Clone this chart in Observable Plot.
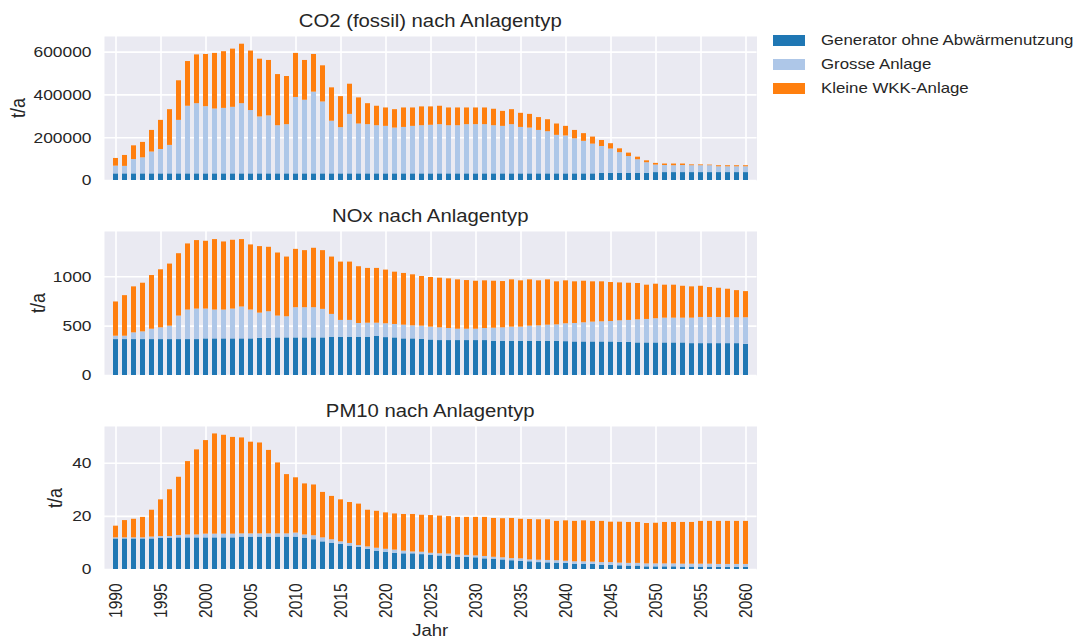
<!DOCTYPE html>
<html>
<head>
<meta charset="utf-8">
<script src="https://cdn.jsdelivr.net/npm/d3@7"></script>
<script src="https://cdn.jsdelivr.net/npm/@observablehq/plot@0.6"></script>
<style>
  body { margin: 0; background: #fff; }
  #root { position: relative; width: 1079px; height: 639px; overflow: hidden; font-family: 'Liberation Sans', Arial, sans-serif; color: #262626; }
  .abs { position: absolute; white-space: nowrap; }
  .title { left: 104px; width: 652.5px; text-align: center; font-size: 17.5px; line-height: 20px; transform: scaleX(1.16); }
  .ylab { font-size: 18px; line-height: 18px; transform: translate(-50%, -50%) scale(1.16, 1) rotate(-90deg); }
  .leg { left: 773px; height: 20px; display: flex; align-items: center; font-size: 14.5px; }
  .leg span { display: inline-block; transform: scaleX(1.16); transform-origin: left center; }
  .sw { width: 32px; height: 11px; margin-right: 16px; }
</style>
</head>
<body>
<div id="root"></div>
<script>
const years = [1990,1991,1992,1993,1994,1995,1996,1997,1998,1999,2000,2001,2002,2003,2004,2005,2006,2007,2008,2009,2010,2011,2012,2013,2014,2015,2016,2017,2018,2019,2020,2021,2022,2023,2024,2025,2026,2027,2028,2029,2030,2031,2032,2033,2034,2035,2036,2037,2038,2039,2040,2041,2042,2043,2044,2045,2046,2047,2048,2049,2050,2051,2052,2053,2054,2055,2056,2057,2058,2059,2060];
const xTicks = [1990,1995,2000,2005,2010,2015,2020,2025,2030,2035,2040,2045,2050,2055,2060];
const typeNames = ["Generator ohne Abwärmenutzung", "Grosse Anlage", "Kleine WKK-Anlage"];
const typeColors = ["#1f77b4", "#aec7e8", "#ff7f0e"];
const titles = ["CO2 (fossil) nach Anlagentyp", "NOx nach Anlagentyp", "PM10 nach Anlagentyp"];

// CO2 (fossil), t/a
const co2Generator = [
  31000,31000,31000,31000,31000,31000,31000,31000,31000,31000,
  31000,31000,31000,31000,31000,31000,31000,31000,31000,31000,
  31000,31000,31000,31000,31000,31000,31000,31000,31000,31000,
  31000,31000,31000,31000,31000,31000,31000,31000,31000,31000,
  31000,31000,31000,31000,31000,31000,31000,31000,31000,31000,
  31000,31000,31000,31000,34000,34000,34000,34000,34000,34000,
  37000,37000,37000,37000,37000,37000,37000,37000,37000,37000,
  37000];
const co2Grosse = [
  36000,35000,67000,75000,102000,114000,133000,250000,316000,328000,
  314000,303000,306000,311000,328000,296000,266000,271000,225000,230000,
  357000,344000,382000,336000,246000,216000,278000,233000,230000,225000,
  222000,214000,217000,222000,225000,227000,230000,225000,225000,230000,
  230000,230000,225000,222000,230000,217000,214000,203000,197000,180000,
  177000,164000,152000,139000,125000,113000,96000,78000,63000,49000,
  35000,33000,32000,33000,32000,32000,32000,27000,27000,27000,
  27000];
const co2Kleine = [
  36000,51000,64000,72000,101000,136000,167000,185000,209000,228000,
  244000,260000,265000,272000,278000,278000,270000,259000,239000,225000,
  206000,186000,176000,169000,156000,145000,141000,122000,98000,91000,
  86000,86000,91000,86000,88000,86000,86000,83000,83000,78000,
  78000,78000,77000,70000,70000,66000,64000,60000,56000,53000,
  45000,39000,36000,33000,28000,25000,18000,16000,12000,9000,
  8000,7000,8000,7000,4000,4000,3000,5000,5000,5000,
  5000];

// NOx, t/a
const noxGenerator = [364,364,364,364,364,364,364,364,364,364,371,371,371,371,371,371,377,377,381,381,381,381,381,381,388,388,388,388,388,398,384,381,371,371,367,360,354,354,354,354,354,354,347,347,347,347,347,347,347,347,343,340,340,340,340,340,337,337,330,330,330,330,330,330,323,323,323,323,323,323,316];
const noxGrosse = [34,34,68,78,105,119,136,238,299,309,302,292,292,302,323,292,255,269,221,214,306,306,306,289,231,170,170,139,142,132,140,136,139,132,133,130,129,122,115,115,115,122,132,136,143,143,153,156,163,166,181,187,194,201,204,207,217,221,234,238,245,251,251,251,258,265,265,265,262,262,269];
const noxKleine = [347,411,466,493,544,588,629,632,670,694,687,714,690,697,683,660,674,653,639,605,591,578,602,595,581,591,591,575,555,555,544,530,524,517,503,503,503,503,500,493,486,483,476,469,479,469,469,456,459,436,435,422,421,408,405,395,384,377,368,347,350,334,334,323,317,316,303,296,289,275,265];

// PM10, t/a
const pmGenerator = [11.5,11.5,11.5,11.5,11.5,11.8,11.8,11.9,11.9,11.9,11.9,11.9,11.9,11.9,12.2,12.2,12.2,12.2,12.2,12.2,12.2,11.8,11.2,10.4,9.9,9.4,8.8,8.3,7.6,6.9,6.5,6.1,5.9,5.9,5.6,5.4,5.1,5.0,4.6,4.6,4.4,4.0,3.9,3.6,3.3,3.1,2.9,2.6,2.5,2.4,2.3,2.0,2.0,1.9,1.6,1.6,1.4,1.3,1.3,1.0,1.0,1.0,1.0,0.9,0.9,0.9,0.9,0.75,0.75,0.75,0.75];
const pmGrosse = [0.4,0.4,0.4,0.4,0.7,0.6,0.6,0.9,1.1,1.1,1.4,1.4,1.4,1.4,1.2,1.2,1.2,1.2,1.2,1.2,1.5,1.2,1.5,1.5,1.3,1.0,1.0,0.7,0.9,1.1,1.1,1.2,1.0,0.7,0.9,0.7,0.8,0.8,0.8,0.7,0.7,0.9,0.7,0.8,0.8,0.9,0.7,0.9,0.9,0.9,0.8,0.9,0.9,0.9,1.0,1.0,1.0,1.0,1.0,1.1,1.1,1.1,1.1,1.1,1.1,1.1,1.1,1.15,1.15,1.15,1.15];
const pmKleine = [4.4,6.5,7.0,7.7,10.1,13.8,17.6,21.9,27.6,32.0,35.2,37.7,37.2,36.4,36.1,34.5,34.2,31.4,26.7,22.3,20.8,19.2,19.1,17.1,16.3,15.8,15.4,15.6,13.8,13.9,13.7,13.6,13.8,14.1,13.9,14.2,14.2,14.1,14.2,14.3,14.5,14.7,14.6,14.7,15.1,14.9,15.2,15.2,15.3,14.8,15.2,15.2,15.4,15.3,15.5,15.2,15.4,15.4,15.4,15.2,15.3,15.6,15.6,15.7,15.7,16.1,16.1,16.2,16.2,16.2,16.2];

const co2Ticks = [0, 200000, 400000, 600000];
const noxTicks = [0, 500, 1000];
const pmTicks = [0, 20, 40];
const co2Domain = [0, 673000];
const noxDomain = [0, 1459];
const pmDomain = [0, 53.8];

const SX = 1.16; // horizontal glyph stretch seen in the reference

function table(gen, gro, kle) {
  const series = [gen, gro, kle];
  return years.flatMap((yr, i) => series.map((s, k) => ({year: yr, type: typeNames[k], value: s[i]})));
}

function stretchText(e) {
  let t = e.getAttribute("transform");
  if (!t) {
    const x = e.getAttribute("x") || 0, y = e.getAttribute("y") || 0;
    e.removeAttribute("x"); e.removeAttribute("y");
    t = `translate(${x},${y})`;
  }
  if (t.includes("rotate(")) t = t.replace("rotate(", `scale(${SX},1) rotate(`);
  else t = t + ` scale(${SX},1)`;
  e.setAttribute("transform", t);
}

function panel(data, yDomain, yTicks, showX) {
  const mb = showX ? 60 : 4;
  const frameH = showX ? 143 : 144;
  const svg = Plot.plot({
    width: 1079,
    height: 10 + frameH + mb,
    marginLeft: 104,
    marginRight: 322.5,
    marginTop: 10,
    marginBottom: mb,
    style: {fontFamily: "'Liberation Sans', Arial, sans-serif", fontSize: "15px", color: "#262626", background: "transparent", overflow: "visible"},
    x: {type: "band", domain: years, paddingInner: 0.5, paddingOuter: 0.25, align: 0.5, axis: showX ? undefined : null},
    y: {domain: yDomain},
    color: {domain: typeNames, range: typeColors},
    marks: [
      Plot.frame({fill: "#eaeaf2", stroke: null}),
      Plot.gridY(yTicks, {stroke: "white", strokeOpacity: 1, strokeWidth: 1.6}),
      Plot.ruleX(xTicks, {x: d => d, stroke: "white", strokeOpacity: 1, strokeWidth: 1.6}),
      Plot.barY(data, {x: "year", y: "value", fill: "type", order: typeNames}),
      Plot.axisY(yTicks, {tickSize: 0, tickPadding: 13, label: null, tickFormat: d => String(d), fontSize: 15}),
      showX ? Plot.axisX(xTicks, {tickSize: 0, tickPadding: 14, tickRotate: -90, label: null, tickFormat: d => String(d), fontSize: 15.5}) : null
    ]
  });
  svg.querySelectorAll("text").forEach(stretchText);
  return svg;
}

const root = document.getElementById("root");
const panels = [
  {data: table(co2Generator, co2Grosse, co2Kleine), dom: co2Domain, ticks: co2Ticks, top: 26, ylabX: 17.5, ylabY: 108},
  {data: table(noxGenerator, noxGrosse, noxKleine), dom: noxDomain, ticks: noxTicks, top: 221, ylabX: 38, ylabY: 302.5},
  {data: table(pmGenerator, pmGrosse, pmKleine), dom: pmDomain, ticks: pmTicks, top: 416, ylabX: 54.5, ylabY: 497.5}
];
panels.forEach((p, i) => {
  const svg = panel(p.data, p.dom, p.ticks, i === 2);
  svg.style.position = "absolute";
  svg.style.left = "0px";
  svg.style.top = p.top + "px";
  root.appendChild(svg);
  const t = document.createElement("div");
  t.className = "abs title";
  t.style.top = (10.6 + i * 195) + "px";
  t.textContent = titles[i];
  root.appendChild(t);
  const yl = document.createElement("div");
  yl.className = "abs ylab";
  yl.style.left = p.ylabX + "px";
  yl.style.top = p.ylabY + "px";
  yl.textContent = "t/a";
  root.appendChild(yl);
});

const jahr = document.createElement("div");
jahr.className = "abs";
jahr.style.cssText = "left:104px;width:652.5px;text-align:center;top:620.5px;font-size:16px;line-height:20px;transform:scaleX(1.16);";
jahr.textContent = "Jahr";
root.appendChild(jahr);

typeNames.forEach((name, i) => {
  const row = document.createElement("div");
  row.className = "abs leg";
  row.style.top = (30.3 + i * 24) + "px";
  const sw = document.createElement("div");
  sw.className = "sw";
  sw.style.background = typeColors[i];
  row.appendChild(sw);
  const tx = document.createElement("span");
  tx.textContent = name;
  row.appendChild(tx);
  root.appendChild(row);
});
</script>
</body>
</html>
